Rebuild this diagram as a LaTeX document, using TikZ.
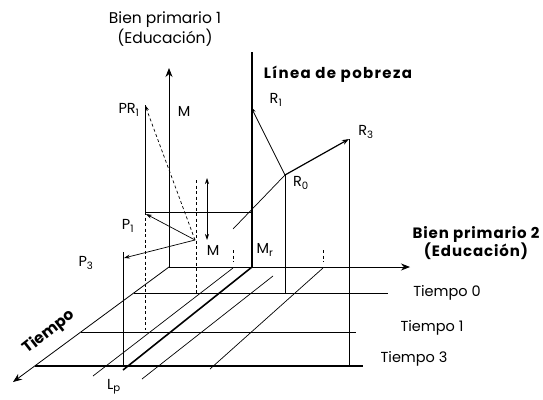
\documentclass[tikz,border=0pt]{standalone}
\usepackage{fontspec}
\setmainfont{Poppins}
\usetikzlibrary{arrows.meta}
\tikzset{
  thinline/.style={line width=0.7pt},
  thickline/.style={line width=1.6pt},
  axisarrow/.style={line width=0.8pt,-{Stealth[length=9pt,width=7pt]}},
  smallarrow/.style={line width=0.7pt,-{Stealth[length=6pt,width=4pt]}},
  dashline/.style={line width=0.8pt,dash pattern=on 3pt off 2.5pt},
  lbl/.style={inner sep=0pt,font=\fontsize{14.5}{17}\selectfont},
  blbl/.style={inner sep=0pt,font=\fontsize{15}{16.5}\selectfont\bfseries\addfontfeature{LetterSpace=6},align=center},
}
\begin{document}
\begin{tikzpicture}[x=1pt,y=-1pt]
\useasboundingbox (0,0) rectangle (543,399);
% key points
\coordinate (O) at (169,267);
\coordinate (Ytop) at (169,68);
\coordinate (Xend) at (410,267);
\coordinate (Tend) at (13,382);
\coordinate (LPtop) at (252,52);
\coordinate (LPbot) at (252,267);
\coordinate (LPfoot) at (123,370);
\coordinate (R0) at (285,175);
\coordinate (R1) at (251,107);
\coordinate (R3) at (349,139);
\coordinate (Rstart) at (233,229);
\coordinate (M) at (195,240);
\coordinate (P1) at (146,214);
\coordinate (P3) at (124,258);
\coordinate (PR1) at (145,105);
\coordinate (PR1b) at (145,212);
\coordinate (PR1c) at (145,330);
\coordinate (P1r) at (252,212);
\coordinate (P3top) at (123,252);
\coordinate (P3bot) at (123,366);
\coordinate (Dtop) at (196,180);
\coordinate (Dbot) at (196,293);
\coordinate (Atop) at (207,178);
\coordinate (Abot) at (207,240);
\coordinate (R0bot) at (285,293);
\coordinate (R3bot) at (349,366);
% time plane lines
\coordinate (T0a) at (134,293); \coordinate (T0b) at (388,293);
\coordinate (T1a) at (81,332);  \coordinate (T1b) at (356,332);
\coordinate (T3a) at (35,366);  \coordinate (T3b) at (363,366);
% diagonals
\coordinate (Da1) at (233,268); \coordinate (Da2) at (93,376);
\coordinate (Db1) at (273,276); \coordinate (Db2) at (142,379);
\coordinate (Dc1) at (323,268); \coordinate (Dc2) at (210,369);
% ticks
\coordinate (Ka1) at (233,250); \coordinate (Ka2) at (233,262);
\coordinate (Kb1) at (323,250); \coordinate (Kb2) at (323,262);

% axes
\draw[axisarrow] (O) -- (Ytop);
\draw[axisarrow] (O) -- (Xend);
\draw[axisarrow] (O) -- (Tend);
% time planes
\draw[thinline] (T0a) -- (T0b);
\draw[thinline] (T1a) -- (T1b);
\draw[line width=1.1pt] (T3a) -- (T3b);
% diagonals
\draw[thinline] (Da1) -- (Da2);
\draw[thinline] (Db1) -- (Db2);
\draw[thinline] (Dc1) -- (Dc2);
\draw[thickline] (LPbot) -- (LPfoot);
% poverty line
\draw[thickline] (LPtop) -- (LPbot);
% verticals
\draw[thinline] (PR1) -- (PR1b);
\draw[dashline] (PR1b) -- (PR1c);
\draw[thinline] (PR1b) -- (P1r);
\draw[thinline] (P3top) -- (P3bot);
\draw[dashline] (Dtop) -- (Dbot);
\draw[thinline] (R0) -- (R0bot);
\draw[thinline] (R3) -- (R3bot);
\draw[dashline] (Ka1) -- (Ka2);
\draw[dashline] (Kb1) -- (Kb2);
% arrows
\draw[smallarrow,{Stealth[length=6pt,width=4pt]}-{Stealth[length=6pt,width=4pt]}] (Atop) -- (Abot);
\draw[smallarrow] (M) -- (P1);
\draw[smallarrow] (M) -- (P3);
\draw[smallarrow,dash pattern=on 3pt off 2.5pt] (M) -- (PR1);
\draw[thinline] (Rstart) -- (R0);
\draw[smallarrow] (R0) -- (R1);
\draw[line width=1.2pt,-{Stealth[length=7pt,width=5pt]}] (R0) -- (R3);

% labels
\node[lbl,align=center,font=\fontsize{15.5}{17}\selectfont] (lb1) at (165,29) {Bien primario 1\\(Educación)};
\node[inner sep=0pt,font=\fontsize{15}{16.5}\selectfont\bfseries\addfontfeature{LetterSpace=9}] (llp) at (338,74) {Línea de pobreza};
\node[blbl] (lb2) at (476,243) {Bien primario 2\\(Educación)};
\node[lbl] (lpr1) at (129,110) {PR\textsubscript{1}};
\node[lbl] (lm1) at (184,111) {M};
\node[lbl] (lp1) at (128,226) {P\textsubscript{1}};
\node[lbl] (lp3) at (86,263) {P\textsubscript{3}};
\node[lbl] (lm2) at (213,250) {M};
\node[lbl] (lmr) at (265,250) {M\textsubscript{r}};
\node[lbl] (lr1) at (276,100) {R\textsubscript{1}};
\node[lbl] (lr3) at (366,132) {R\textsubscript{3}};
\node[lbl] (lr0) at (301,183) {R\textsubscript{0}};
\node[lbl] (lt0) at (447,293) {Tiempo 0};
\node[lbl] (lt1) at (432,328) {Tiempo 1};
\node[lbl] (lt3) at (414,359) {Tiempo 3};
\node[lbl,font=\fontsize{15.5}{17}\selectfont\bfseries,rotate=38] (lt) at (49,332) {Tiempo};
\node[lbl] (llpb) at (114,387) {L\textsubscript{p}};
\end{tikzpicture}
\end{document}
